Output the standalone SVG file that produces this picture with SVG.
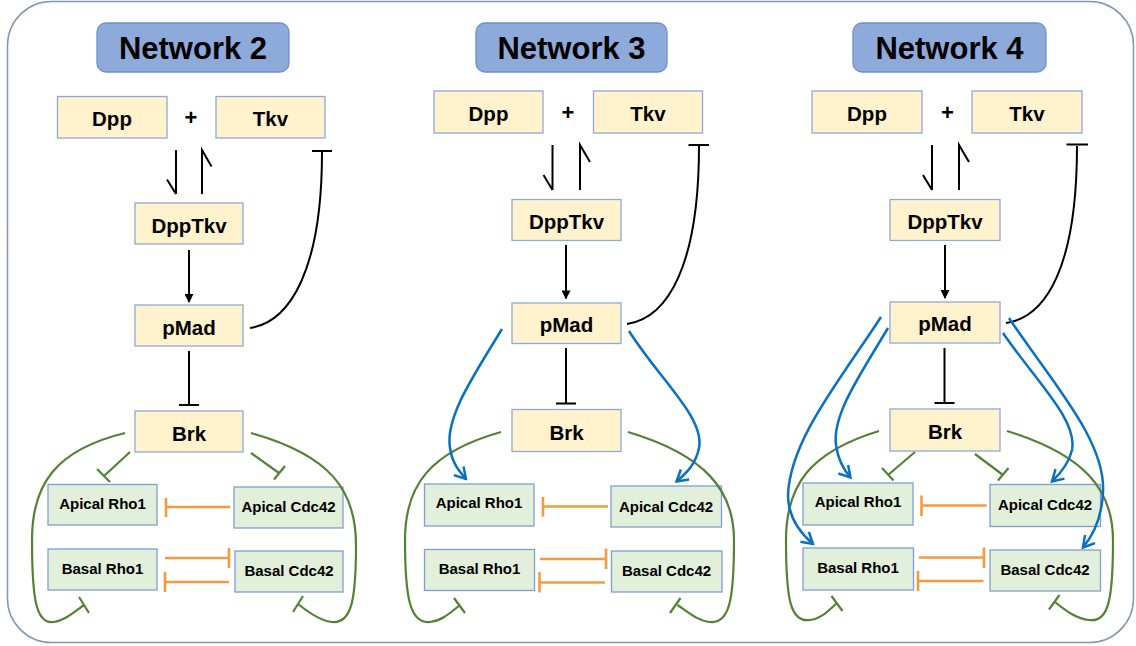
<svg xmlns="http://www.w3.org/2000/svg" width="1136" height="646" viewBox="0 0 1136 646">
  <defs>
    <style>
      text { font-family: "Liberation Sans", Arial, sans-serif; font-weight: bold; fill: #000; text-anchor: middle; }
      .title rect { fill: #8eaadb; stroke: #6f8fc9; stroke-width: 1.3; }
      .title text { font-size: 31px; }
      .core rect { fill: #fff2cc; stroke: #8eaadb; stroke-width: 1.3; }
      .core text { font-size: 20.5px; }
      .leaf rect { fill: #e2efda; stroke: #7f9fd3; stroke-width: 1.3; }
      .leaf text { font-size: 15px; }
      .plus { font-size: 22px; }
      .blk { fill: none; stroke: #000; stroke-width: 2; }
      .grn { fill: none; stroke: #548235; stroke-width: 2.2; }
      .org { fill: none; stroke: #f79a3e; stroke-width: 2.6; }
      .blu { fill: none; stroke: #0a70c0; stroke-width: 2.5; marker-end: url(#vhead); }
      .act { marker-end: url(#tri); }
    </style>
    <marker id="tri" viewBox="0 0 10 10" refX="9" refY="5" markerWidth="9" markerHeight="9" markerUnits="userSpaceOnUse" orient="auto">
      <path d="M0,0 L10,5 L0,10 Z" fill="#000"/>
    </marker>
    <marker id="vhead" viewBox="0 0 16 16" refX="14" refY="8" markerWidth="16" markerHeight="16" markerUnits="userSpaceOnUse" orient="auto">
      <path d="M3,1.5 L14,8 L3,14.5" fill="none" stroke="#0a70c0" stroke-width="2.5"/>
    </marker>
  </defs>

  <!-- panel frame -->
  <rect x="7.5" y="1.5" width="1126" height="641" rx="44" fill="#fff" stroke="#8497b0" stroke-width="1.5"/>

  <!-- ===== Network 2 ===== -->
  <g id="n2-title" class="title"><rect x="97" y="23" width="192" height="49" rx="9"/><text x="193" y="58.5">Network 2</text></g>
  <g id="n2-dpp" class="core"><rect x="57.5" y="96.5" width="109.5" height="41.5"/><text x="112" y="126">Dpp</text></g>
  <text id="n2-plus" class="plus" x="191" y="125">+</text>
  <g id="n2-tkv" class="core"><rect x="216" y="96.5" width="109" height="41.5"/><text x="270.5" y="126">Tkv</text></g>
  <g id="n2-dpptkv" class="core"><rect x="135" y="203" width="108" height="41"/><text x="189" y="232.5">DppTkv</text></g>
  <g id="n2-pmad" class="core"><rect x="135" y="305" width="108" height="41"/><text x="189" y="334.5">pMad</text></g>
  <g id="n2-brk" class="core"><rect x="135" y="411" width="108" height="41"/><text x="189" y="440.5">Brk</text></g>
  <g id="n2-arho" class="leaf"><rect x="48" y="484.5" width="109" height="40.5"/><text x="102.5" y="508.5" font-size="14">Apical Rho1</text></g>
  <g id="n2-acdc" class="leaf"><rect x="234" y="487" width="109" height="41"/><text x="288.5" y="512">Apical Cdc42</text></g>
  <g id="n2-brho" class="leaf"><rect x="48" y="549" width="109" height="41"/><text x="102.5" y="574">Basal Rho1</text></g>
  <g id="n2-bcdc" class="leaf"><rect x="235" y="551" width="108" height="41"/><text x="289" y="575.5">Basal Cdc42</text></g>

  <!-- ===== Network 3 ===== -->
  <g id="n3-title" class="title"><rect x="476" y="23" width="191" height="49" rx="9"/><text x="571.5" y="58.5">Network 3</text></g>
  <g id="n3-dpp" class="core"><rect x="434" y="91" width="109" height="42"/><text x="488.5" y="121">Dpp</text></g>
  <text id="n3-plus" class="plus" x="568" y="120">+</text>
  <g id="n3-tkv" class="core"><rect x="593.5" y="91" width="109" height="42"/><text x="648" y="121">Tkv</text></g>
  <g id="n3-dpptkv" class="core"><rect x="512" y="199.5" width="109" height="41"/><text x="566.5" y="229">DppTkv</text></g>
  <g id="n3-pmad" class="core"><rect x="512" y="303" width="109" height="40.5"/><text x="566.5" y="332">pMad</text></g>
  <g id="n3-brk" class="core"><rect x="512" y="409.5" width="109" height="42"/><text x="566.5" y="439.5">Brk</text></g>
  <g id="n3-arho" class="leaf"><rect x="424.5" y="484" width="109.5" height="42"/><text x="479" y="507.5" font-size="14">Apical Rho1</text></g>
  <g id="n3-acdc" class="leaf"><rect x="611" y="486" width="110.5" height="41"/><text x="666" y="511.5">Apical Cdc42</text></g>
  <g id="n3-brho" class="leaf"><rect x="424.5" y="549.5" width="110" height="41"/><text x="479.5" y="574">Basal Rho1</text></g>
  <g id="n3-bcdc" class="leaf"><rect x="611.5" y="551" width="110.5" height="41"/><text x="666.5" y="576">Basal Cdc42</text></g>

  <!-- ===== Network 4 ===== -->
  <g id="n4-title" class="title"><rect x="853" y="23" width="193" height="49" rx="9"/><text x="949.5" y="58.5">Network 4</text></g>
  <g id="n4-dpp" class="core"><rect x="812" y="91" width="110" height="42"/><text x="867" y="121">Dpp</text></g>
  <text id="n4-plus" class="plus" x="947.5" y="120">+</text>
  <g id="n4-tkv" class="core"><rect x="972" y="91" width="110" height="42"/><text x="1027" y="121">Tkv</text></g>
  <g id="n4-dpptkv" class="core"><rect x="890" y="199.5" width="110" height="41"/><text x="945" y="229">DppTkv</text></g>
  <g id="n4-pmad" class="core"><rect x="890" y="302" width="110" height="41"/><text x="945" y="331">pMad</text></g>
  <g id="n4-brk" class="core"><rect x="890" y="409" width="110" height="42"/><text x="945" y="439">Brk</text></g>
  <g id="n4-arho" class="leaf"><rect x="803" y="483" width="110" height="42"/><text x="858" y="506.5" font-size="14">Apical Rho1</text></g>
  <g id="n4-acdc" class="leaf"><rect x="990" y="484.5" width="110.5" height="42"/><text x="1045" y="510">Apical Cdc42</text></g>
  <g id="n4-brho" class="leaf"><rect x="803" y="548" width="110.5" height="42"/><text x="858" y="573">Basal Rho1</text></g>
  <g id="n4-bcdc" class="leaf"><rect x="990" y="550" width="110.5" height="41"/><text x="1045" y="575">Basal Cdc42</text></g>

  <!-- connectors -->
  <g id="connectors">
    <!-- Network 2 -->
    <path class="blk" d="M176,150 V194 M167,179.5 L176,194"/>
    <path class="blk" d="M202,194 V150 L211.5,166.5"/>
    <path class="blk act" d="M189,250 V302"/>
    <path class="blk" d="M250,328 C290,322 322,270 322,152 M312,151 H332"/>
    <path class="blk" d="M189,351 V405 M179,405 H199"/>
    <path class="grn" d="M130,452 L104,476 M97,469 L110,482"/>
    <path class="grn" d="M251,453 L279,473 M274,479.5 L285,466"/>
    <path class="grn" d="M125,433 C55,450 32,485 32,540 C32,598 36,624 53,622 C64,621 74,612 84,605 M79,597 L89,613"/>
    <path class="grn" d="M251,433 C330,455 356,490 356,545 C356,598 352,624 332,622 C320,621 308,612 298,604 M293,612 L303,596"/>
    <path class="org" d="M230,507 H166 M166,498 V517"/>
    <path class="org" d="M165,558 H229 M229,548 V568"/>
    <path class="org" d="M229,582 H165 M165,572 V592"/>

    <!-- Network 3 -->
    <path class="blk" d="M552.5,145 V190 M543.5,175 L552.5,190"/>
    <path class="blk" d="M580,190 V145 L590,162"/>
    <path class="blk act" d="M566,245 V298.5"/>
    <path class="blk" d="M627,324 C668,318 699,265 699,146 M688.5,145 H709"/>
    <path class="blk" d="M566,348 V403.5 M556,403.5 H576"/>
    <path class="grn" d="M501,432 C430,452 405,485 405,540 C405,598 410,624 430,622 C442,621 451,612 460,605 M454,598 L465,613"/>
    <path class="grn" d="M628,432 C705,455 734,490 734,540 C734,598 730,624 710,622 C698,621 688,612 677.5,605 M670,613 L680.5,598"/>
    <path class="org" d="M608,506.5 H543 M543,497 V516.5"/>
    <path class="org" d="M540,559 H606 M606,548.5 V569"/>
    <path class="org" d="M605,582.5 H539.5 M539.5,572 V592.5"/>
    <path class="blu" d="M502,329 C472,378 445,418 450,448 C452,462 458,470 466,479"/>
    <path class="blu" d="M629,331 C660,380 705,418 699,448 C696,463 688,472 676.5,481.5"/>

    <!-- Network 4 -->
    <path class="blk" d="M932,145 V190 M923,175 L932,190"/>
    <path class="blk" d="M959,190 V145 L969,162"/>
    <path class="blk act" d="M945,245 V298"/>
    <path class="blk" d="M1006,323 C1047,317 1077,265 1077,146 M1066.5,144.5 H1088"/>
    <path class="blk" d="M944.5,348 V403 M934.5,403 H954.5"/>
    <path class="grn" d="M915,452 L888,475 M882,468 L893.5,480.5"/>
    <path class="grn" d="M975,454 L1003,475 M998,480.5 L1008.5,468"/>
    <path class="grn" d="M879,431 C810,452 786,485 786,540 C786,598 790,623 810,620 C821,619 828,611 837,603 M831.5,596 L842.5,611"/>
    <path class="grn" d="M1007,431 C1085,455 1113,490 1113,540 C1113,598 1109,623 1089,620 C1077,619 1066,611 1055,602 M1049,609.5 L1059.5,595"/>
    <path class="org" d="M986.5,505.5 H921.5 M921.5,495.5 V516"/>
    <path class="org" d="M919,557.5 H984 M984,547.5 V568"/>
    <path class="org" d="M983.5,581 H918 M918,571 V591"/>
    <path class="blu" d="M881,317 C840,380 790,440 788,495 C788,516 799,532 813,544"/>
    <path class="blu" d="M888,328 C860,375 832,415 836,445 C838,460 843,469 850.5,477.5"/>
    <path class="blu" d="M1003,333 C1035,380 1078,420 1072,450 C1069,463 1062,472 1052,481.5"/>
    <path class="blu" d="M1009,318 C1050,380 1106,440 1103,492 C1102,516 1095,533 1083,547.5"/>
  </g>
</svg>
